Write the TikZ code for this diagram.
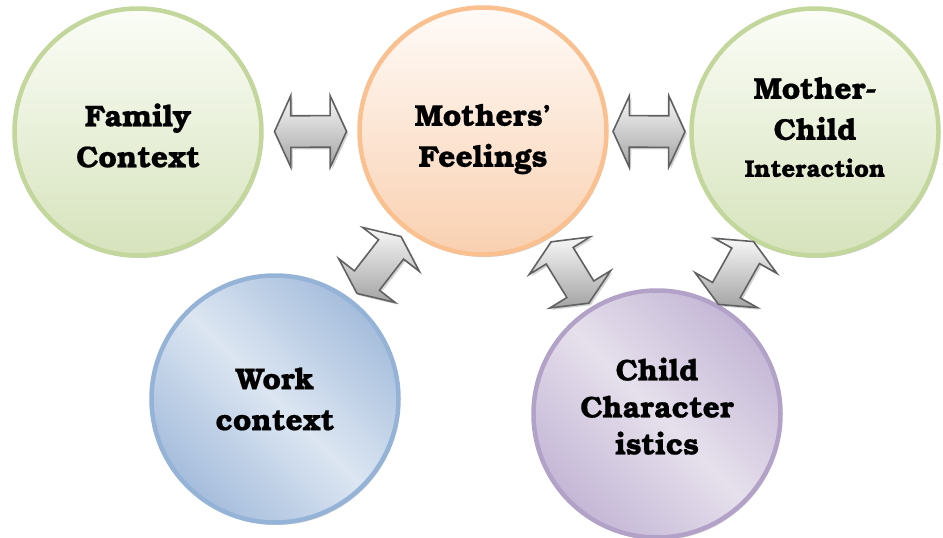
\documentclass[tikz,border=0pt]{standalone}
\usepackage{fontspec}
\newfontfamily\bonum{texgyrebonum-bold.otf}[FakeBold=0.6]
\usetikzlibrary{shapes.arrows, shadows}

% rim and fill colours of the five circles
\definecolor{greenrim}{HTML}{C3D69B}
\definecolor{greentop}{HTML}{FBFDF7}
\definecolor{greenbot}{HTML}{D6E3BC}
\definecolor{peachrim}{HTML}{FAC08F}
\definecolor{peachtop}{HTML}{FFFBF8}
\definecolor{peachbot}{HTML}{F9D0B0}
\definecolor{bluerim}{HTML}{95B3D7}
\definecolor{bluelite}{HTML}{DCE6F2}
\definecolor{bluedark}{HTML}{A5BDDC}
\definecolor{lilacrim}{HTML}{B3A2C7}
\definecolor{lilaclite}{HTML}{E6E0EC}
\definecolor{lilacdark}{HTML}{C4B7D6}

\begin{document}
\begin{tikzpicture}[x=1pt, y=-1pt,
  bubble/.style={circle, minimum size=247pt, line width=4.5pt, inner sep=0pt,
    align=center, font=\bonum\fontsize{30}{41}\selectfont,
    drop shadow={shadow xshift=1.5pt, shadow yshift=-2.5pt, opacity=0.3, fill=black!60}},
  greenball/.style={bubble, draw=greenrim, top color=greentop, bottom color=greenbot},
  peachball/.style={bubble, draw=peachrim, top color=peachtop, bottom color=peachbot},
  blueball/.style={bubble, draw=bluerim, left color=bluedark, right color=bluedark,
    middle color=bluelite, shading angle=-45},
  lilacball/.style={bubble, draw=lilacrim, left color=lilacdark, right color=lilacdark,
    middle color=lilaclite, shading angle=-45},
  twoway/.style={double arrow, draw=black!62, line width=1.6pt, inner sep=0pt,
    inner ysep=15pt, minimum height=72pt, minimum width=70pt,
    double arrow head extend=20pt, double arrow tip angle=131,
    top color=black!3, bottom color=black!36,
    drop shadow={shadow xshift=2pt, shadow yshift=-2pt, opacity=0.35, fill=black!50}}
]
  \useasboundingbox (0,0) rectangle (943,538);

  % top row
  \node[greenball, text height=71pt] (family) at (138,132) {Family\\Context};
  \node[peachball, text height=79pt] (feel) at (483,131) {Mothers’\\Feelings};
  \node[greenball, text depth=10pt] (mci) at (815,132)
    {Mother-\\Child\\[-4pt]{\fontsize{24}{30}\selectfont Interaction}};

  % bottom row
  \node[blueball] (work) at (275,399) {Work\\context};
  \node[lilacball, font=\bonum\fontsize{30}{37}\selectfont, text depth=16pt]
    (child) at (657,414) {Child\\Character\\istics};

  % block arrows half way between the circles
  \path (family) -- (feel) node[twoway, midway, sloped] (fa) {};
  \path (feel) -- (mci) node[twoway, midway, sloped] (fm) {};
  \path (work) -- (feel) node[twoway, midway, sloped] (wf) {};
  \path (feel) -- (child) node[twoway, midway, sloped] (fc) {};
  \path (child) -- (mci) node[twoway, midway, sloped] (cm) {};
\end{tikzpicture}
\end{document}
